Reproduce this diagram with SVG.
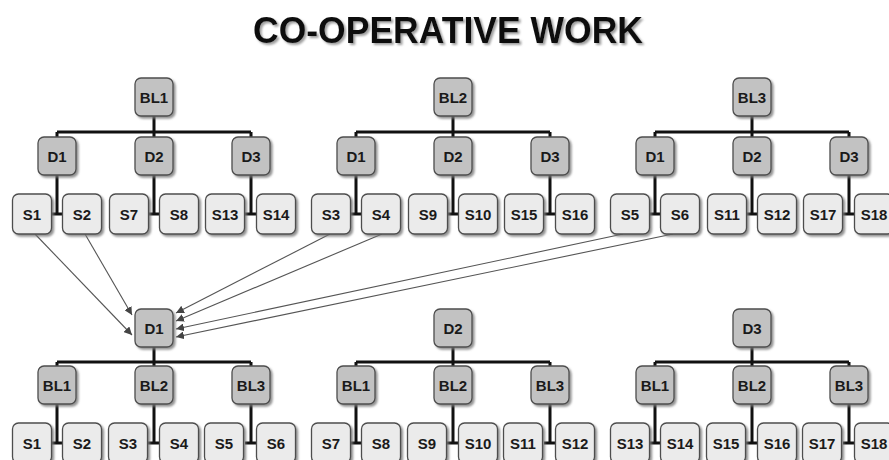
<svg xmlns="http://www.w3.org/2000/svg" width="889" height="460" viewBox="0 0 889 460">
<defs>
<filter id="sh" x="-30%" y="-30%" width="160%" height="160%">
<feDropShadow dx="2" dy="2" stdDeviation="1.3" flood-color="#777" flood-opacity="0.8"/>
</filter>
<filter id="tsh" x="-5%" y="-30%" width="110%" height="160%">
<feDropShadow dx="2" dy="2" stdDeviation="1.2" flood-color="#777" flood-opacity="0.7"/>
</filter>
<marker id="ah" viewBox="0 0 8 8" refX="8" refY="4" markerWidth="8" markerHeight="8" markerUnits="userSpaceOnUse" orient="auto">
<path d="M0,0 L8,4 L0,8 Z" fill="#444"/>
</marker>
</defs>
<style>
.dk rect{fill:#c2c2c2;stroke:#4d4d4d;stroke-width:1.3;filter:url(#sh)}
.lt rect{fill:#ebebeb;stroke:#4d4d4d;stroke-width:1.3;filter:url(#sh)}
text{font-family:"Liberation Sans",Arial,sans-serif;font-weight:bold;font-size:15px;fill:#1a1a1a;text-anchor:middle}
.tree path{fill:none;stroke:#111;stroke-width:3}
.arr line{stroke:#555;stroke-width:1.1;marker-end:url(#ah)}
.title{font-size:37px;fill:#111;filter:url(#tsh)}
</style>
<rect width="889" height="460" fill="#fff"/>
<text class="title" x="448" y="43" textLength="390" lengthAdjust="spacingAndGlyphs">CO-OPERATIVE WORK</text>

<g id="connectors">
<g class="tree">
<path d="M154,116 V132 M57,132 H251 M57,132 V137 M154,132 V137 M251,132 V137"/>
<path d="M57,175 V214 M51,214 H63 M154,175 V214 M148,214 H160 M251,175 V214 M245,214 H257"/>
<path d="M453,116 V132 M356,132 H550 M356,132 V137 M453,132 V137 M550,132 V137"/>
<path d="M356,175 V214 M350,214 H362 M453,175 V214 M447,214 H459 M550,175 V214 M544,214 H556"/>
<path d="M752,116 V132 M655,132 H849 M655,132 V137 M752,132 V137 M849,132 V137"/>
<path d="M655,175 V214 M649,214 H661 M752,175 V214 M746,214 H758 M849,175 V214 M843,214 H855"/>
<path d="M154,347 V362 M57,362 H251 M57,362 V366 M154,362 V366 M251,362 V366"/>
<path d="M57,404 V443 M51,443 H63 M154,404 V443 M148,443 H160 M251,404 V443 M245,443 H257"/>
<path d="M453,347 V362 M356,362 H550 M356,362 V366 M453,362 V366 M550,362 V366"/>
<path d="M356,404 V443 M350,443 H362 M453,404 V443 M447,443 H459 M550,404 V443 M544,443 H556"/>
<path d="M752,347 V362 M655,362 H849 M655,362 V366 M752,362 V366 M849,362 V366"/>
<path d="M655,404 V443 M649,443 H661 M752,404 V443 M746,443 H758 M849,404 V443 M843,443 H855"/>
</g>
<g class="arr">
<line x1="35" y1="234" x2="132" y2="335"/>
<line x1="85" y1="234" x2="132" y2="315"/>
<line x1="330" y1="234" x2="176" y2="313"/>
<line x1="382" y1="234" x2="176" y2="321"/>
<line x1="623" y1="234" x2="176" y2="329"/>
<line x1="673" y1="234" x2="176" y2="337"/>
</g>
</g>

<g id="t1-BL1" class="dk"><rect x="135" y="78" width="38" height="38" rx="6"/><text x="154" y="102.5">BL1</text></g>
<g id="t1-D1" class="dk"><rect x="38" y="137" width="38" height="38" rx="6"/><text x="57" y="161.5">D1</text></g>
<g id="t1-D2" class="dk"><rect x="135" y="137" width="38" height="38" rx="6"/><text x="154" y="161.5">D2</text></g>
<g id="t1-D3" class="dk"><rect x="232" y="137" width="38" height="38" rx="6"/><text x="251" y="161.5">D3</text></g>
<g id="t1-S1" class="lt"><rect x="12.5" y="194" width="39" height="40" rx="6"/><text x="32" y="219.5">S1</text></g>
<g id="t1-S2" class="lt"><rect x="62.5" y="194" width="39" height="40" rx="6"/><text x="82" y="219.5">S2</text></g>
<g id="t1-S7" class="lt"><rect x="109.5" y="194" width="39" height="40" rx="6"/><text x="129" y="219.5">S7</text></g>
<g id="t1-S8" class="lt"><rect x="159.5" y="194" width="39" height="40" rx="6"/><text x="179" y="219.5">S8</text></g>
<g id="t1-S13" class="lt"><rect x="205.5" y="194" width="39" height="40" rx="6"/><text x="225" y="219.5">S13</text></g>
<g id="t1-S14" class="lt"><rect x="256.5" y="194" width="39" height="40" rx="6"/><text x="276" y="219.5">S14</text></g>

<g id="t2-BL2" class="dk"><rect x="434" y="78" width="38" height="38" rx="6"/><text x="453" y="102.5">BL2</text></g>
<g id="t2-D1" class="dk"><rect x="337" y="137" width="38" height="38" rx="6"/><text x="356" y="161.5">D1</text></g>
<g id="t2-D2" class="dk"><rect x="434" y="137" width="38" height="38" rx="6"/><text x="453" y="161.5">D2</text></g>
<g id="t2-D3" class="dk"><rect x="531" y="137" width="38" height="38" rx="6"/><text x="550" y="161.5">D3</text></g>
<g id="t2-S3" class="lt"><rect x="311.5" y="194" width="39" height="40" rx="6"/><text x="331" y="219.5">S3</text></g>
<g id="t2-S4" class="lt"><rect x="361.5" y="194" width="39" height="40" rx="6"/><text x="381" y="219.5">S4</text></g>
<g id="t2-S9" class="lt"><rect x="408.5" y="194" width="39" height="40" rx="6"/><text x="428" y="219.5">S9</text></g>
<g id="t2-S10" class="lt"><rect x="458.5" y="194" width="39" height="40" rx="6"/><text x="478" y="219.5">S10</text></g>
<g id="t2-S15" class="lt"><rect x="504.5" y="194" width="39" height="40" rx="6"/><text x="524" y="219.5">S15</text></g>
<g id="t2-S16" class="lt"><rect x="555.5" y="194" width="39" height="40" rx="6"/><text x="575" y="219.5">S16</text></g>

<g id="t3-BL3" class="dk"><rect x="733" y="78" width="38" height="38" rx="6"/><text x="752" y="102.5">BL3</text></g>
<g id="t3-D1" class="dk"><rect x="636" y="137" width="38" height="38" rx="6"/><text x="655" y="161.5">D1</text></g>
<g id="t3-D2" class="dk"><rect x="733" y="137" width="38" height="38" rx="6"/><text x="752" y="161.5">D2</text></g>
<g id="t3-D3" class="dk"><rect x="830" y="137" width="38" height="38" rx="6"/><text x="849" y="161.5">D3</text></g>
<g id="t3-S5" class="lt"><rect x="610.5" y="194" width="39" height="40" rx="6"/><text x="630" y="219.5">S5</text></g>
<g id="t3-S6" class="lt"><rect x="660.5" y="194" width="39" height="40" rx="6"/><text x="680" y="219.5">S6</text></g>
<g id="t3-S11" class="lt"><rect x="707.5" y="194" width="39" height="40" rx="6"/><text x="727" y="219.5">S11</text></g>
<g id="t3-S12" class="lt"><rect x="757.5" y="194" width="39" height="40" rx="6"/><text x="777" y="219.5">S12</text></g>
<g id="t3-S17" class="lt"><rect x="803.5" y="194" width="39" height="40" rx="6"/><text x="823" y="219.5">S17</text></g>
<g id="t3-S18" class="lt"><rect x="854.5" y="194" width="39" height="40" rx="6"/><text x="874" y="219.5">S18</text></g>

<g id="b1-D1" class="dk"><rect x="135" y="309" width="38" height="38" rx="6"/><text x="154" y="333.5">D1</text></g>
<g id="b1-BL1" class="dk"><rect x="38" y="366" width="38" height="38" rx="6"/><text x="57" y="390.5">BL1</text></g>
<g id="b1-BL2" class="dk"><rect x="135" y="366" width="38" height="38" rx="6"/><text x="154" y="390.5">BL2</text></g>
<g id="b1-BL3" class="dk"><rect x="232" y="366" width="38" height="38" rx="6"/><text x="251" y="390.5">BL3</text></g>
<g id="b1-S1" class="lt"><rect x="12.5" y="423" width="39" height="40" rx="6"/><text x="32" y="448.5">S1</text></g>
<g id="b1-S2" class="lt"><rect x="62.5" y="423" width="39" height="40" rx="6"/><text x="82" y="448.5">S2</text></g>
<g id="b1-S3" class="lt"><rect x="108.5" y="423" width="39" height="40" rx="6"/><text x="128" y="448.5">S3</text></g>
<g id="b1-S4" class="lt"><rect x="159.5" y="423" width="39" height="40" rx="6"/><text x="179" y="448.5">S4</text></g>
<g id="b1-S5" class="lt"><rect x="204.5" y="423" width="39" height="40" rx="6"/><text x="224" y="448.5">S5</text></g>
<g id="b1-S6" class="lt"><rect x="256.5" y="423" width="39" height="40" rx="6"/><text x="276" y="448.5">S6</text></g>

<g id="b2-D2" class="dk"><rect x="434" y="309" width="38" height="38" rx="6"/><text x="453" y="333.5">D2</text></g>
<g id="b2-BL1" class="dk"><rect x="337" y="366" width="38" height="38" rx="6"/><text x="356" y="390.5">BL1</text></g>
<g id="b2-BL2" class="dk"><rect x="434" y="366" width="38" height="38" rx="6"/><text x="453" y="390.5">BL2</text></g>
<g id="b2-BL3" class="dk"><rect x="531" y="366" width="38" height="38" rx="6"/><text x="550" y="390.5">BL3</text></g>
<g id="b2-S7" class="lt"><rect x="311.5" y="423" width="39" height="40" rx="6"/><text x="331" y="448.5">S7</text></g>
<g id="b2-S8" class="lt"><rect x="361.5" y="423" width="39" height="40" rx="6"/><text x="381" y="448.5">S8</text></g>
<g id="b2-S9" class="lt"><rect x="407.5" y="423" width="39" height="40" rx="6"/><text x="427" y="448.5">S9</text></g>
<g id="b2-S10" class="lt"><rect x="458.5" y="423" width="39" height="40" rx="6"/><text x="478" y="448.5">S10</text></g>
<g id="b2-S11" class="lt"><rect x="503.5" y="423" width="39" height="40" rx="6"/><text x="523" y="448.5">S11</text></g>
<g id="b2-S12" class="lt"><rect x="555.5" y="423" width="39" height="40" rx="6"/><text x="575" y="448.5">S12</text></g>

<g id="b3-D3" class="dk"><rect x="733" y="309" width="38" height="38" rx="6"/><text x="752" y="333.5">D3</text></g>
<g id="b3-BL1" class="dk"><rect x="636" y="366" width="38" height="38" rx="6"/><text x="655" y="390.5">BL1</text></g>
<g id="b3-BL2" class="dk"><rect x="733" y="366" width="38" height="38" rx="6"/><text x="752" y="390.5">BL2</text></g>
<g id="b3-BL3" class="dk"><rect x="830" y="366" width="38" height="38" rx="6"/><text x="849" y="390.5">BL3</text></g>
<g id="b3-S13" class="lt"><rect x="610.5" y="423" width="39" height="40" rx="6"/><text x="630" y="448.5">S13</text></g>
<g id="b3-S14" class="lt"><rect x="660.5" y="423" width="39" height="40" rx="6"/><text x="680" y="448.5">S14</text></g>
<g id="b3-S15" class="lt"><rect x="706.5" y="423" width="39" height="40" rx="6"/><text x="726" y="448.5">S15</text></g>
<g id="b3-S16" class="lt"><rect x="757.5" y="423" width="39" height="40" rx="6"/><text x="777" y="448.5">S16</text></g>
<g id="b3-S17" class="lt"><rect x="802.5" y="423" width="39" height="40" rx="6"/><text x="822" y="448.5">S17</text></g>
<g id="b3-S18" class="lt"><rect x="854.5" y="423" width="39" height="40" rx="6"/><text x="874" y="448.5">S18</text></g>
</svg>
